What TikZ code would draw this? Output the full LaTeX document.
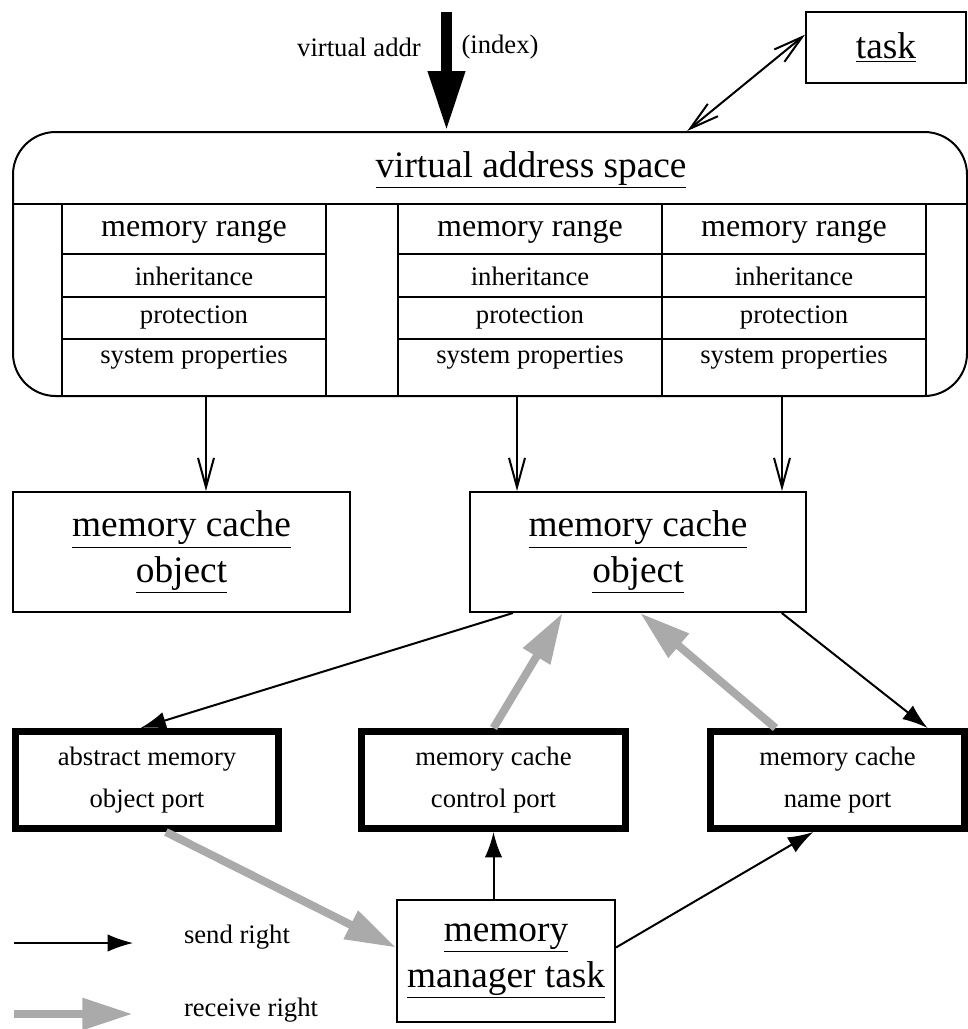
\documentclass[tikz,border=0pt]{standalone}
\usepackage{fontspec}
\setmainfont{Liberation Serif}
\usepackage{tikz}
\usetikzlibrary{arrows.meta}

\definecolor{recvgray}{HTML}{AAAAAA}

\begin{document}
\begin{tikzpicture}[
    x=0.75pt,y=-0.75pt,line width=1.5pt,
    box/.style={draw,inner sep=0pt,align=center,font=\fontsize{28}{34}\selectfont},
    title/.style={inner sep=0pt,font=\fontsize{28}{34}\selectfont},
    port/.style={draw,line width=5.25pt,inner sep=0pt,align=center,minimum height=72.75pt,font=\fontsize{20}{32}\selectfont},
    cell/.style={inner sep=0pt,font=\fontsize{20}{24}\selectfont},
    sendarrow/.style={->,>={Latex[length=19pt,width=13pt]}},
    recvarrow/.style={recvgray,line width=6pt,->,>={Triangle[length=38pt,width=22.5pt]}},
    openarrow/.style={->,>={Straight Barb[length=22pt,width=12pt]}}
    ]
    \useasboundingbox (0,0) rectangle (968,1029);

    % address space with its ranges
    \node[box,minimum width=715.5pt,minimum height=198pt,rounded corners=32pt] (vas) at (490,264) {};
    \node[title] (vastitle) at (531,170) {\underline{virtual address space}};
    \coordinate (hdr) at (0,204);
    \draw (vas.west |- hdr) -- (vas.east |- hdr);
    \foreach \x in {62,326,398,662,926}
        \draw (\x,204) -- (\x,396);
    \foreach \x/\n in {194/1,530/2,794/3} {
        \draw (\x-132,254) -- (\x+132,254)
              (\x-132,297) -- (\x+132,297)
              (\x-132,339) -- (\x+132,339);
        \node[cell,font=\fontsize{24}{28}\selectfont] (rng\n) at (\x,232) {memory range};
        \node[cell] (inh\n) at (\x,276) {inheritance};
        \node[cell] (prt\n) at (\x,318) {protection};
        \node[cell] (sys\n) at (\x,358) {system properties};
    }

    % incoming address
    \coordinate (addr) at (446.5,12);
    \draw[line width=8.25pt,-{Triangle[length=45pt,width=26pt]}] (addr) -- (addr |- vas.north);
    \node[cell] (vaddr) at (359,47) {virtual addr};
    \node[cell] (index) at (500,47) {(index)};

    \node[box,minimum width=120pt,minimum height=53.25pt] (task) at (886,47.5) {\underline{task}};
    \draw[openarrow,<->] (vas.34) -- (task.171);

    % cache objects
    \node[box,minimum width=252.75pt,minimum height=90pt] (mco1) at (181.5,552) {\underline{memory cache}\\\underline{object}};
    \node[box,minimum width=252pt,minimum height=90pt] (mco2) at (638,552) {\underline{memory cache}\\\underline{object}};
    \coordinate (d1) at (206,396);
    \coordinate (d2) at (517,396);
    \coordinate (d3) at (782,396);
    \draw[openarrow] (d1) -- (d1 |- mco1.north);
    \draw[openarrow] (d2) -- (d2 |- mco2.north);
    \draw[openarrow] (d3) -- (d3 |- mco2.north);

    % ports
    \node[port,minimum width=197.25pt] (amo) at (147,780) {abstract memory\\object port};
    \node[port,minimum width=198pt] (ctl) at (493.5,780) {memory cache\\control port};
    \node[port,minimum width=190.5pt] (name) at (837.5,780) {memory cache\\name port};
    \node[box,minimum width=163.5pt,minimum height=91.5pt] (mgr) at (506,961) {\underline{memory}\\\underline{manager task}};

    \draw[sendarrow] (mco2.206) -- (amo.97);
    \draw[sendarrow] (mco2.337) -- (name.30);
    \draw[recvarrow] (ctl.north) -- (mco2.219);
    \draw[recvarrow] (name.140) -- (mco2.272);
    \draw[recvarrow] (amo.290) -- (mgr.173);
    \draw[sendarrow] (ctl.south |- mgr.north) -- (ctl.south);
    \draw[sendarrow] (mgr.7) -- (name.245);

    % legend
    \coordinate (snd0) at (14,943);
    \coordinate (snd1) at (133,943);
    \coordinate (rcv0) at (14,1014);
    \coordinate (rcv1) at (133,1014);
    \draw[sendarrow,line width=1pt] (snd0) -- (snd1);
    \draw[recvarrow,line width=6.5pt] (rcv0) -- (rcv1);
    \node[cell,anchor=west] (sndtxt) at (183,937) {send right};
    \node[cell,anchor=west] (rcvtxt) at (183,1010) {receive right};
\end{tikzpicture}
\end{document}
